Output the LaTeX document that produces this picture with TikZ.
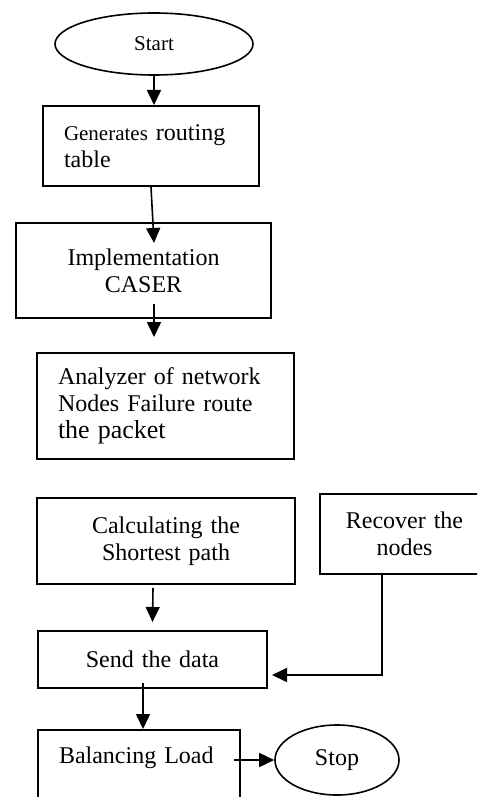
\documentclass[tikz,border=0pt]{standalone}
\usepackage{fontspec}
\setmainfont{Liberation Serif}
\usetikzlibrary{shapes.geometric,arrows.meta}
\begin{document}
\begin{tikzpicture}[x=0.5pt,y=-0.5pt,
  box/.style={draw,line width=1pt,rectangle,anchor=north west,inner xsep=10.5pt,inner ysep=0pt,font=\fontsize{12}{13.5}\selectfont},
  oval/.style={draw,line width=0.8pt,ellipse,inner sep=0pt},
  arr/.style={line width=0.8pt,-{Triangle[length=7.5pt,width=7pt]}}]
\useasboundingbox (0,0) rectangle (477,797);
\clip (0,0) rectangle (477,797);

\node[oval,minimum width=99pt,minimum height=31pt,font=\fontsize{10.5}{12}\selectfont] (start) at (154,44) {Start};
\node[box,minimum width=108pt,minimum height=40pt,text width=87pt,align=left] (gen) at (42,105) {{\fontsize{10.5}{13.5}\selectfont Generates} routing\\table};
\node[box,minimum width=127.5pt,minimum height=47.5pt,text width=106.5pt,align=center] (impl) at (15,222) {Implementation\\CASER};
\node[box,minimum width=128.5pt,minimum height=53pt,text width=107.5pt,align=left] (ana) at (36,352) {Analyzer of network\\Nodes Failure route\\{\fontsize{13}{14}\selectfont the packet}};
\node[box,minimum width=129pt,minimum height=43pt,text width=108pt,align=center] (calc) at (36,497) {Calculating the\\Shortest path};
\node[box,minimum width=84.5pt,minimum height=40pt,text width=63.5pt,align=center] (rec) at (319,493) {Recover the\\nodes};
\node[box,minimum width=114.5pt,minimum height=28.5pt,text width=93.5pt,align=center] (send) at (37,630) {Send the data};
\node[box,text width=80pt,align=left,inner ysep=8.5pt,text height=8pt,text depth=40pt] (bal) at (37,729) {Balancing Load};
\node[oval,minimum width=62pt,minimum height=35pt,font=\fontsize{12}{13.5}\selectfont] (stop) at (337,760) {Stop};

\coordinate (b7) at (bal.east |- stop.west);

\draw[arr] (start.south) -- (start.south |- gen.north);
\draw[arr] (gen.south) -- ([xshift=5.25pt,yshift=-10.5pt]impl.north);
\draw[arr] ([xshift=5.25pt,yshift=7.5pt]impl.south) -- ([xshift=-5.75pt,yshift=7.5pt]ana.north);
\draw[arr] ([xshift=-6.5pt,yshift=-1.5pt]calc.south) -- ([yshift=4pt]send.north);
\draw[arr] ([xshift=-11.25pt]rec.south) |- ([xshift=2pt,yshift=-7.75pt]send.east);
\draw[arr] ([xshift=-4.75pt,yshift=3pt]send.south) -- ([xshift=2pt]bal.north);
\draw[arr] ([xshift=-3.5pt]b7) -- (stop.west);
\end{tikzpicture}
\end{document}
